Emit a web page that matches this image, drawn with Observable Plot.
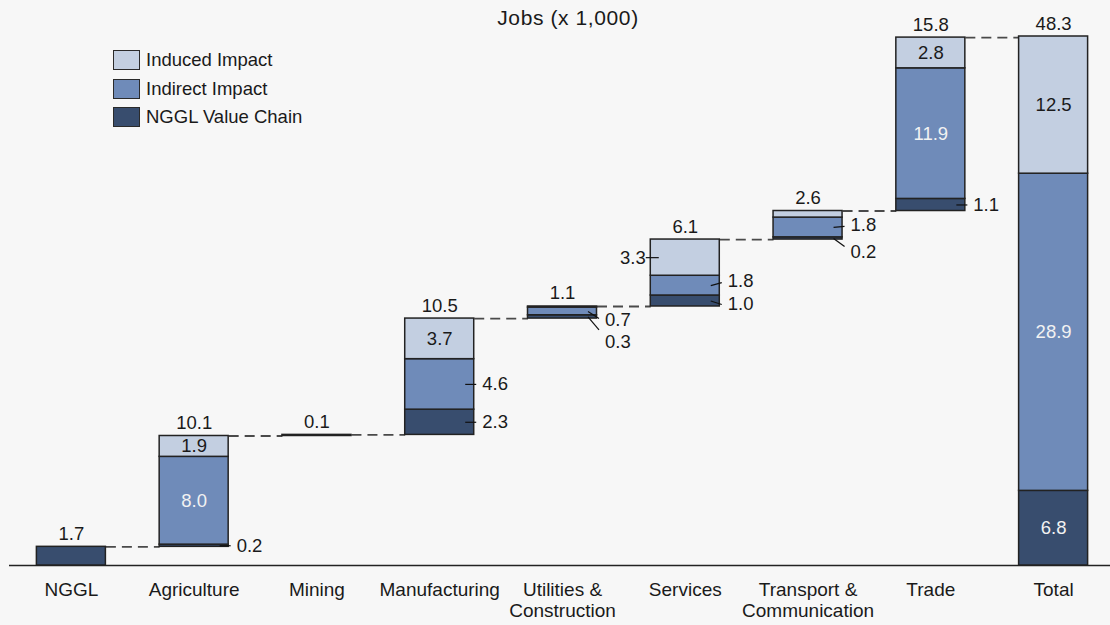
<!DOCTYPE html>
<html>
<head>
<meta charset="utf-8">
<script src="https://cdn.jsdelivr.net/npm/d3@7"></script>
<script src="https://cdn.jsdelivr.net/npm/@observablehq/plot@0.6"></script>
<style>
  html, body { margin: 0; padding: 0; background: #f7f7f7; }
  body { font-family: "Liberation Sans", Arial, sans-serif; color: #1a1a1a; }
  #wrap { position: relative; width: 1110px; height: 625px; overflow: hidden; }
  #title { position: absolute; top: 6px; left: 0; width: 1136px; text-align: center; font-size: 21px; letter-spacing: 0.6px; }
  #legend { position: absolute; left: 113px; top: 50px; font-size: 18.5px; }
  .row { display: flex; align-items: center; height: 20px; margin-bottom: 8.5px; }
  .sw { box-sizing: border-box; width: 27px; height: 20px; border: 1.5px solid #2a2a2a; margin-right: 6px; }
</style>
</head>
<body>
<div id="wrap">
  <div id="chart"></div>
  <div id="title">Jobs (x 1,000)</div>
  <div id="legend"></div>
</div>
<script>
// ---- data ----
const sectors = ["NGGL", "Agriculture", "Mining", "Manufacturing", "Utilities &\nConstruction",
                 "Services", "Transport &\nCommunication", "Trade", "Total"];
const valueChain = [1.7, 0.2, 0, 2.3, 0.3, 1.0, 0.2, 1.1, 6.8];
const indirect   = [0, 8.0, 0.1, 4.6, 0.7, 1.8, 1.8, 11.9, 28.9];
const induced    = [0, 1.9, 0, 3.7, 0.1, 3.3, 0.6, 2.8, 12.5];
const barTotals  = ["1.7", "10.1", "0.1", "10.5", "1.1", "6.1", "2.6", "15.8", "48.3"];
const seriesNames = ["Induced Impact", "Indirect Impact", "NGGL Value Chain"];

// ---- styling / annotation layout ----
const colors = {chain: "#384d6e", indirect: "#6f8bb9", induced: "#c3cfe1"};
// where each segment label goes: "in" inside, "r" right with leader, "l" left with leader, "" none
const chainPlace    = ["", "r", "", "r", "r", "r", "r", "r", "in"];
const indirectPlace = ["", "in", "", "r", "r", "r", "r", "in", "in"];
const inducedPlace  = ["", "in", "", "in", "", "l", "", "in", "in"];
// leader tweaks in px: [line end dy, text dy]
const leaderTweaks = {"4-chain": [13, 25], "4-indirect": [7, 9], "5-indirect": [-3, -5],
                      "5-chain": [3.5, 3], "6-chain": [8, 14], "6-indirect": [-1, -2]};

// ---- derived ----
const n = sectors.length;
const sums = sectors.map((_, i) => valueChain[i] + indirect[i] + induced[i]);
const starts = [];
let acc = 0;
for (let i = 0; i < n; i++) {
  if (i === n - 1) starts.push(0);
  else { starts.push(acc); acc += sums[i]; }
}
const yTop = sums[n - 1];
const xs = d3.scaleLinear([-0.5, n - 0.5], [9.5, 1114.5]);
const ys = d3.scaleLinear([0, yTop], [565, 36]);
const hw = 34.5 / (xs(1) - xs(0)); // half bar width in x units

const series = [
  {key: "chain", vals: valueChain, place: chainPlace},
  {key: "indirect", vals: indirect, place: indirectPlace},
  {key: "induced", vals: induced, place: inducedPlace}
];
const segs = [];
for (let i = 0; i < n; i++) {
  let base = starts[i];
  for (const s of series) {
    const v = s.vals[i];
    if (v > 0) segs.push({i, key: s.key, y1: base, y2: base + v, v, place: s.place[i]});
    base += v;
  }
}
const connectors = [];
for (let i = 0; i < n - 1; i++) connectors.push({i, y: starts[i] + sums[i]});

// legend
const legend = document.getElementById("legend");
const legendKeys = ["induced", "indirect", "chain"];
seriesNames.forEach((name, k) => {
  const row = document.createElement("div");
  row.className = "row";
  const sw = document.createElement("span");
  sw.className = "sw";
  sw.style.background = colors[legendKeys[k]];
  row.appendChild(sw);
  row.appendChild(document.createTextNode(name));
  legend.appendChild(row);
});

const pxX = (x, dpx) => xs.invert(xs(x) + dpx);
const pxY = (y, dpx) => ys.invert(ys(y) + dpx);

const marks = [
  Plot.link(connectors, {
    x1: d => d.i + hw, x2: d => d.i + 1 - hw, y1: "y", y2: "y",
    stroke: "#4a4a4a", strokeWidth: 1.8, strokeDasharray: "10,6"
  }),
  Plot.ruleY([0], {stroke: "#222", strokeWidth: 1.5})
];
for (const s of series) {
  marks.push(Plot.rect(segs.filter(d => d.key === s.key), {
    x1: d => d.i - hw, x2: d => d.i + hw, y1: "y1", y2: "y2",
    fill: colors[s.key], stroke: "#222", strokeWidth: 1.5
  }));
}
// inside labels
marks.push(Plot.text(segs.filter(d => d.place === "in"), {
  x: "i", y: d => (d.y1 + d.y2) / 2, text: d => d.v.toFixed(1),
  fill: d => d.key === "induced" ? "#1a1a1a" : "#f2f2f2", fontSize: 18.5
}));
// outside labels with leaders
const leaderLines = [], leaderTexts = [];
for (const d of segs.filter(d => d.place === "r" || d.place === "l")) {
  const mid = (d.y1 + d.y2) / 2;
  const [ldy, tdy] = leaderTweaks[`${d.i}-${d.key}`] || [0, 0];
  if (d.place === "r") {
    const edge = d.i + hw;
    leaderLines.push({x1: pxX(edge, -9), y1: mid, x2: pxX(edge, 2), y2: pxY(mid, ldy)});
    leaderTexts.push({x: pxX(edge, 8), y: pxY(mid, tdy), t: d.v.toFixed(1), a: "start"});
  } else {
    const edge = d.i - hw;
    leaderLines.push({x1: pxX(edge, 8), y1: mid, x2: pxX(edge, -5), y2: pxY(mid, ldy)});
    leaderTexts.push({x: pxX(edge, -5), y: pxY(mid, tdy), t: d.v.toFixed(1), a: "end"});
  }
}
marks.push(Plot.link(leaderLines, {x1: "x1", y1: "y1", x2: "x2", y2: "y2", stroke: "#111", strokeWidth: 1.2}));
marks.push(Plot.text(leaderTexts.filter(d => d.a === "start"), {x: "x", y: "y", text: "t", textAnchor: "start", fontSize: 18.5, fill: "#1a1a1a"}));
marks.push(Plot.text(leaderTexts.filter(d => d.a === "end"), {x: "x", y: "y", text: "t", textAnchor: "end", fontSize: 18.5, fill: "#1a1a1a"}));
// bar total labels
marks.push(Plot.text(sectors, {
  x: (d, i) => i, y: (d, i) => starts[i] + sums[i], text: (d, i) => barTotals[i],
  lineAnchor: "bottom", dy: -7, fontSize: 18.5, fill: "#1a1a1a"
}));
// category labels
marks.push(Plot.text(sectors, {
  x: (d, i) => i, y: 0, text: d => d, lineAnchor: "top", dy: 15,
  fontSize: 19, lineHeight: 1.12, fill: "#1a1a1a"
}));

const chart = Plot.plot({
  width: 1110, height: 625,
  marginTop: 36, marginBottom: 60, marginLeft: 9, marginRight: 0,
  x: {type: "linear", domain: xs.domain(), range: xs.range(), axis: null},
  y: {type: "linear", domain: ys.domain(), range: ys.range(), axis: null},
  style: {background: "#f7f7f7", fontFamily: "'Liberation Sans', Arial, sans-serif", color: "#1a1a1a", overflow: "visible"},
  marks
});
document.getElementById("chart").appendChild(chart);
</script>
</body>
</html>
